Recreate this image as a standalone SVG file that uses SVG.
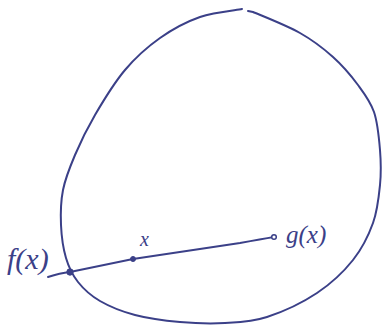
<svg xmlns="http://www.w3.org/2000/svg" width="383" height="327" viewBox="0 0 383 327">
<style>
.ink{fill:none;stroke:#3b4088;stroke-linecap:round;stroke-linejoin:round}
.lbl{font-family:"Liberation Serif",serif;font-style:italic;fill:#3b4088}
.dot{fill:#3b4088;stroke:#3b4088}
</style>
<rect width="383" height="327" fill="#ffffff"/>
<g id="region">
<path class="ink" stroke-width="2" d="M242,9 C235,10.3 213.7,12.2 200,17 C186.3,21.8 172.5,29.2 160,38 C147.5,46.8 135.8,57.2 125,70 C114.2,82.8 103.3,100.8 95,115 C86.7,129.2 80.3,142.5 75,155 C69.7,167.5 65.3,178.3 63,190 C60.7,201.7 60.5,213.7 61,225 C61.5,236.3 63.2,248.5 66,258 C68.8,267.5 72.3,274.8 78,282 C83.7,289.2 90.5,295.5 100,301 C109.5,306.5 121.7,311.5 135,315 C148.3,318.5 165,320.7 180,322 C195,323.3 210.5,323.8 225,323 C239.5,322.2 251.7,322 267,317 C282.3,312 302.7,302.5 317,293 C331.3,283.5 343.7,271.7 353,260 C362.3,248.3 368.5,235.5 373,223 C377.5,210.5 378.8,197.2 380,185 C381.2,172.8 381,162.2 380,150 C379,137.8 377.7,122.8 374,112 C370.3,101.2 364.8,94.2 358,85 C351.2,75.8 342.7,65.7 333,57 C323.3,48.3 313.3,40.5 300,33 C286.7,25.5 261.7,15.7 253,12 L248,11"/>
</g>
<g id="connectors">
<path class="ink" stroke-width="2" d="M48,277 Q60,273 70,272 L133,259 Q200,249 240,243 Q262,239 274,237"/>
</g>
<g id="fx">
<circle class="dot" cx="70" cy="272" r="3.2"/>
<text class="lbl" x="7" y="269" font-size="30">f(x)</text>
</g>
<g id="x">
<circle class="dot" cx="133" cy="259" r="2.5"/>
<text class="lbl" x="140" y="246" font-size="20">x</text>
</g>
<g id="gx">
<circle cx="274" cy="237" r="2.3" fill="#ffffff" stroke="#3b4088" stroke-width="1.5"/>
<text class="lbl" x="286" y="243" font-size="25">g(x)</text>
</g>
</svg>
